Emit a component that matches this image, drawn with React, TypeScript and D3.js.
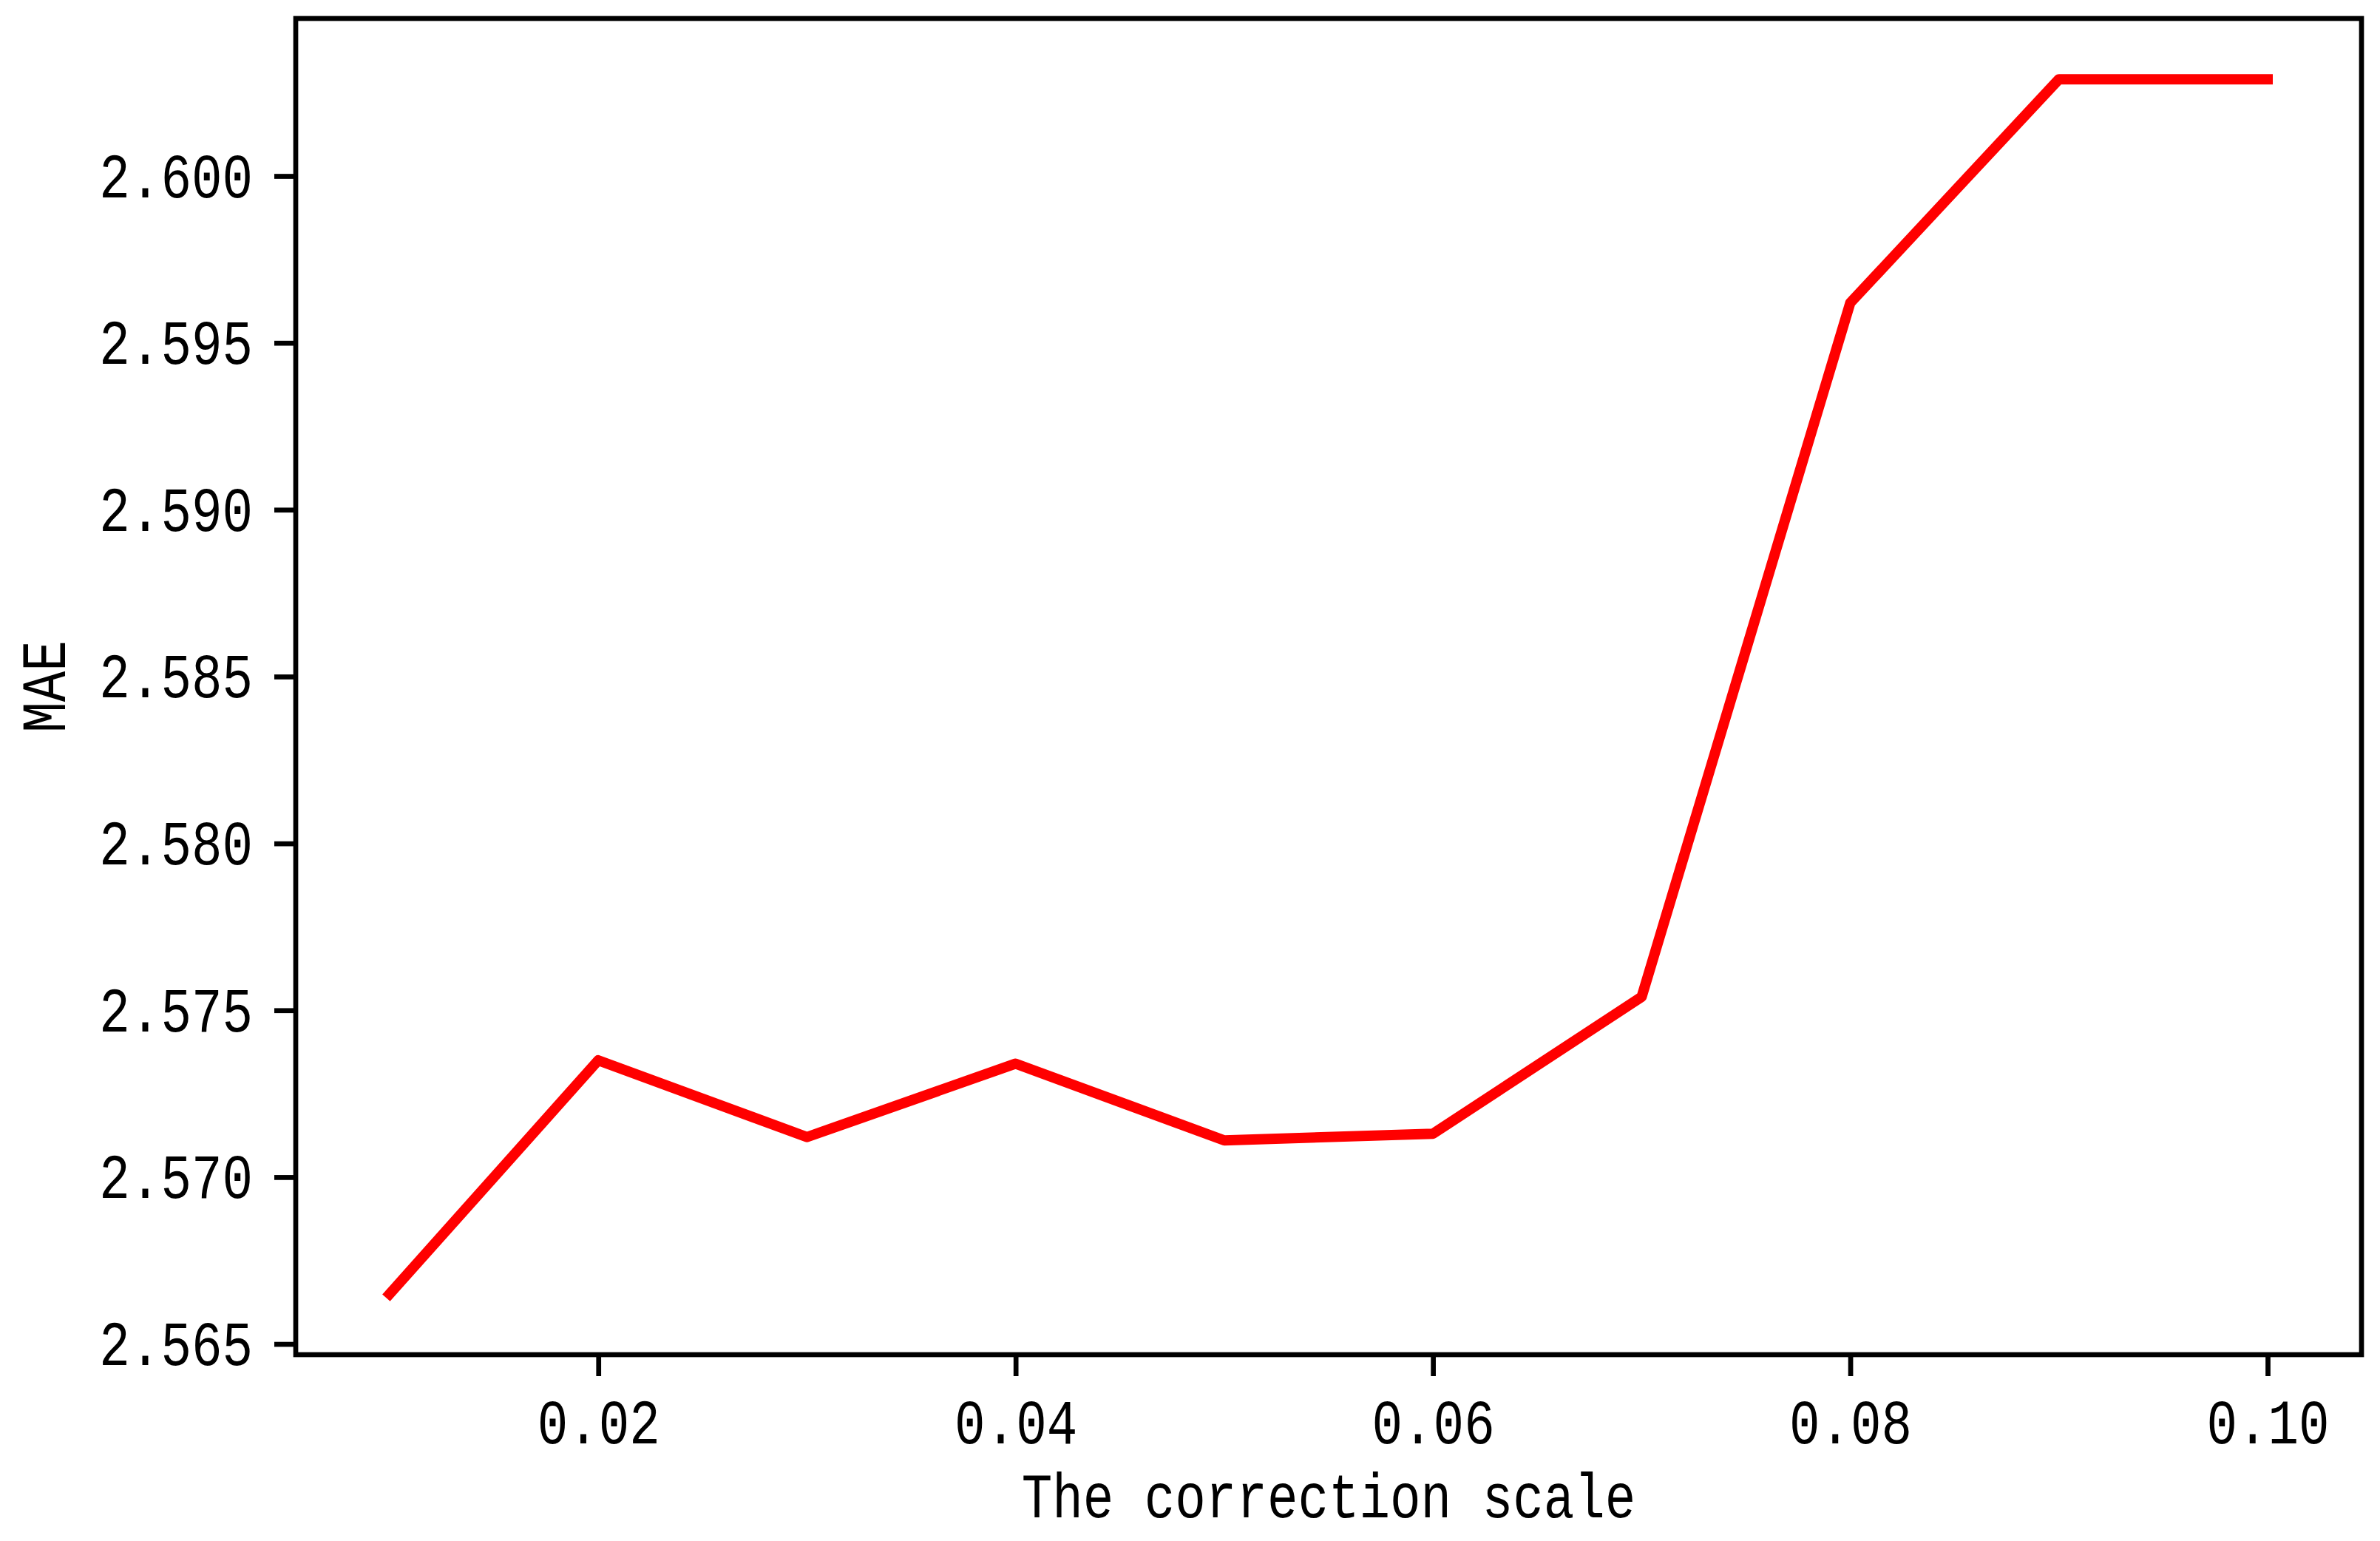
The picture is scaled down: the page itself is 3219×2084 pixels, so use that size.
import React, { useEffect, useRef } from 'react';
import * as d3 from 'd3';

const correctionScale = [0.01, 0.02, 0.03, 0.04, 0.05, 0.06, 0.07, 0.08, 0.09, 0.1];
const maeValues = [2.5665, 2.5735, 2.5712, 2.5734, 2.5711, 2.5713, 2.5754, 2.5962, 2.6029, 2.6029];
const xTickValues = [0.02, 0.04, 0.06, 0.08, 0.1];
const yTickValues = [2.565, 2.57, 2.575, 2.58, 2.585, 2.59, 2.595, 2.6];
const xAxisLabel = 'The correction scale';
const yAxisLabel = 'MAE';

const W = 3219;
const H = 2084;
const PLOT = { left: 400, right: 3194, top: 25, bottom: 1832 };
const FONT = '"Liberation Mono", "DejaVu Sans Mono", monospace';
const FS = 86;
const SX = 0.805;

function padded(ext: [number, number]): [number, number] {
  const m = (ext[1] - ext[0]) * 0.05;
  return [ext[0] - m, ext[1] + m];
}

export default function App() {
  const ref = useRef<SVGSVGElement | null>(null);

  useEffect(() => {
    document.body.style.margin = '0';
    const svg = d3.select(ref.current);
    svg.selectAll('*').remove();

    const x = d3
      .scaleLinear()
      .domain(padded(d3.extent(correctionScale) as [number, number]))
      .range([PLOT.left, PLOT.right]);
    const y = d3
      .scaleLinear()
      .domain(padded(d3.extent(maeValues) as [number, number]))
      .range([PLOT.bottom, PLOT.top]);

    svg.append('rect').attr('width', W).attr('height', H).attr('fill', '#fff');

    const pts = correctionScale.map((c, i) => [c, maeValues[i]] as [number, number]);
    const line = d3
      .line<[number, number]>()
      .x((d) => x(d[0]))
      .y((d) => y(d[1]));

    svg
      .append('path')
      .attr('d', line(pts))
      .attr('fill', 'none')
      .attr('stroke', '#ff0000')
      .attr('stroke-width', 14)
      .attr('stroke-linejoin', 'round')
      .attr('stroke-linecap', 'square');

    const tickLen = 29;
    const pad = 29;

    // x axis
    const xa = d3
      .axisBottom(x)
      .tickValues(xTickValues)
      .tickSize(tickLen)
      .tickPadding(pad)
      .tickFormat((d) => d3.format('.2f')(d as number));
    const gx = svg.append('g').attr('transform', `translate(0,${PLOT.bottom})`).call(xa);
    gx.select('.domain').remove();
    gx.selectAll('.tick line').attr('stroke', '#000').attr('stroke-width', 6.7);
    gx.selectAll('.tick text').each(function () {
      const t = d3.select(this as SVGTextElement);
      t.attr('y', null).attr('dy', null);
      t.attr('font-family', FONT)
        .attr('font-size', FS)
        .attr('fill', '#000')
        .attr('text-anchor', 'middle')
        .attr('transform', `translate(0,${tickLen + pad + 62}) scale(${SX},1)`);
    });

    // y axis
    const ya = d3
      .axisLeft(y)
      .tickValues(yTickValues)
      .tickSize(tickLen)
      .tickPadding(pad)
      .tickFormat((d) => d3.format('.3f')(d as number));
    const gy = svg.append('g').attr('transform', `translate(${PLOT.left},0)`).call(ya);
    gy.select('.domain').remove();
    gy.selectAll('.tick line').attr('stroke', '#000').attr('stroke-width', 6.7);
    gy.selectAll('.tick text').each(function () {
      const t = d3.select(this as SVGTextElement);
      t.attr('x', null).attr('dy', null);
      t.attr('font-family', FONT)
        .attr('font-size', FS)
        .attr('fill', '#000')
        .attr('text-anchor', 'end')
        .attr('transform', `translate(${-(tickLen + pad)},28) scale(${SX},1)`);
    });

    // frame
    svg
      .append('rect')
      .attr('x', PLOT.left)
      .attr('y', PLOT.top)
      .attr('width', PLOT.right - PLOT.left)
      .attr('height', PLOT.bottom - PLOT.top)
      .attr('fill', 'none')
      .attr('stroke', '#000')
      .attr('stroke-width', 6.7);

    // axis labels
    svg
      .append('text')
      .text(xAxisLabel)
      .attr('font-family', FONT)
      .attr('font-size', FS)
      .attr('fill', '#000')
      .attr('text-anchor', 'middle')
      .attr('transform', `translate(${(PLOT.left + PLOT.right) / 2},2052) scale(${SX},1)`);

    svg
      .append('text')
      .text(yAxisLabel)
      .attr('font-family', FONT)
      .attr('font-size', FS)
      .attr('fill', '#000')
      .attr('text-anchor', 'middle')
      .attr('transform', `translate(88,${(PLOT.top + PLOT.bottom) / 2}) rotate(-90) scale(${SX},1)`);
  }, []);

  return <svg ref={ref} width={W} height={H} style={{ display: 'block' }} />;
}
